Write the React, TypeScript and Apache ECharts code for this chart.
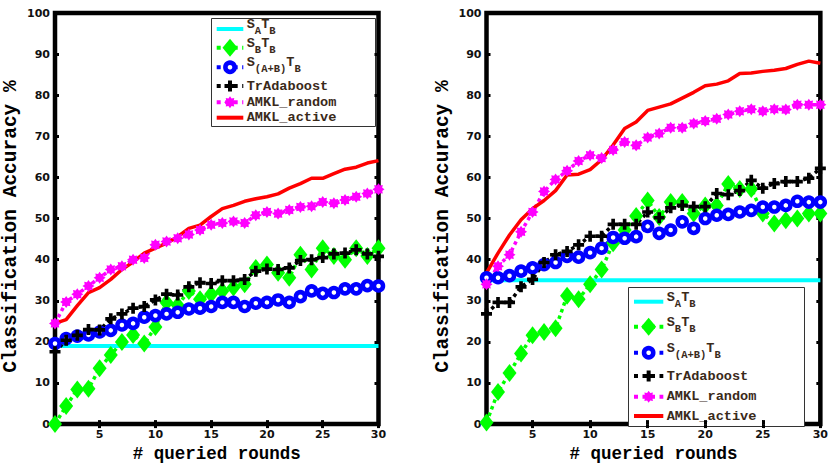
import React, { useEffect, useRef } from 'react';
import * as echarts from 'echarts';

const ROUNDS = [1, 2, 3, 4, 5, 6, 7, 8, 9, 10, 11, 12, 13, 14, 15, 16, 17, 18, 19, 20, 21, 22, 23, 24, 25, 26, 27, 28, 29, 30];
const X_TICKS = [5, 10, 15, 20, 25, 30];

const NAMES = ['SATB', 'SBTB', 'SABTB', 'TrAdaboost', 'AMKL_random', 'AMKL_active'];

// Left panel
const L_SATB = [19, 19, 19, 19, 19, 19, 19, 19, 19, 19, 19, 19, 19, 19, 19, 19, 19, 19, 19, 19, 19, 19, 19, 19, 19, 19, 19, 19, 19, 19];
const L_SBTB = [0, 4.4, 8.4, 8.6, 13.6, 16.8, 20, 21.7, 19.6, 23.6, 29.6, 28.9, 32.4, 30.4, 31.6, 32.4, 33.2, 34, 38, 38.8, 36.8, 35.6, 41.2, 37.6, 42.8, 40.9, 40, 42.8, 40.9, 42.8];
const L_SABTB = [19.6, 20.8, 21.4, 21.7, 22.4, 22.8, 24.1, 24.5, 26, 26.4, 26.8, 27.2, 28, 28.2, 28.6, 29.6, 29.6, 28.6, 29.4, 29.6, 30.2, 29.6, 31, 32.4, 31.8, 32, 32.9, 32.9, 33.7, 33.6];
const L_TRADA = [17.6, 20.4, 21.6, 23, 22.9, 25.6, 26.8, 28.2, 28.6, 30.2, 31.6, 31.4, 33.4, 34.4, 34.2, 34.9, 34.9, 35.2, 37.2, 37.7, 37.6, 38, 39.8, 40, 40.5, 41.4, 41.6, 42.4, 41.4, 40.8];
const L_RANDOM = [24.5, 29.7, 31.6, 33.6, 35.6, 37.6, 38.4, 40, 40.4, 43.6, 44.4, 45.2, 46.1, 47.2, 48.5, 48.9, 49.3, 48.9, 50.8, 51.6, 51.2, 52.1, 52.8, 53, 54, 53.7, 54.5, 55.3, 56.1, 57.1];
const L_ACTIVE = [24.5, 25.4, 28.8, 32, 33.2, 35.2, 37.6, 39.4, 41.6, 42.8, 44, 45.6, 47.6, 48.4, 50.5, 52.4, 53.2, 54.2, 54.8, 55.3, 56, 57.4, 58.5, 59.8, 59.8, 60.9, 62, 62.5, 63.5, 64.1];

// Right panel
const R_SATB = [35, 35, 35, 35, 35, 35, 35, 35, 35, 35, 35, 35, 35, 35, 35, 35, 35, 35, 35, 35, 35, 35, 35, 35, 35, 35, 35, 35, 35, 35];
const R_SBTB = [0.4, 7.8, 12.4, 17.2, 21.6, 22.4, 23.3, 31.2, 30.4, 34, 37.6, 44, 47.2, 50.6, 54.4, 50.4, 54, 54, 51.2, 53.2, 53.2, 58.4, 57.2, 57.2, 51.2, 48.8, 49.6, 50, 51.2, 51.2];
const R_SABTB = [35.6, 35.6, 36.1, 37.2, 38, 38.8, 39.3, 40.8, 40.6, 41.7, 42.8, 45.4, 45.2, 45.6, 48.1, 46.4, 47.2, 49.2, 47.6, 50, 50.8, 51, 51.6, 52, 52.8, 52.8, 53.2, 54.2, 54, 54];
const R_TRADA = [26.8, 29.6, 29.6, 33.4, 35.2, 39.3, 41.2, 42, 43.6, 45.7, 45.7, 48.6, 48.6, 48.6, 51.6, 50.2, 52.6, 53.2, 52.9, 52.9, 56.1, 55.8, 56.8, 59.3, 57.4, 58.5, 59, 59, 59.8, 62.2];
const R_RANDOM = [34, 38.4, 41.2, 46.8, 51.6, 56.6, 59.5, 61.6, 64, 65.4, 64.7, 66.7, 68.6, 67.8, 69.7, 70.7, 72.1, 72.1, 73.1, 73.7, 74.3, 75.3, 76.1, 76.6, 76.1, 76.6, 76.5, 77.7, 77.7, 77.7];
const R_ACTIVE = [36.8, 41.6, 46, 49.7, 52.4, 54.4, 56.8, 60.6, 60.8, 61.9, 64.3, 67.9, 71.9, 73.5, 76.3, 77.1, 77.9, 79.3, 80.7, 82.3, 82.7, 83.5, 85.3, 85.4, 85.8, 86.1, 86.5, 87.5, 88.3, 87.8];

const PANELS = [
  [L_SATB, L_SBTB, L_SABTB, L_TRADA, L_RANDOM, L_ACTIVE],
  [R_SATB, R_SBTB, R_SABTB, R_TRADA, R_RANDOM, R_ACTIVE],
];

const LEGEND_LABELS = [
  '{n|S}{s|A}{n|T}{s|B}',
  '{n|S}{s|B}{n|T}{s|B}',
  '{n|S}{s|(A+B)}{n|T}{s|B}',
  '{p|TrAdaboost}',
  '{p|AMKL_random}',
  '{p|AMKL_active}',
];
const HAS_SUB = [true, true, true, false, false, false];

const COLORS = ['#00ffff', '#00ff00', '#0000ff', '#000000', '#ff00ff', '#ff0000'];

const MONO = '"Liberation Mono", "Courier New", monospace';
const LEG_COLOR = '#3a2a1a';

function starPts(cx: number, cy: number, R: number, r: number) {
  const pts: number[][] = [];
  for (let i = 0; i < 16; i++) {
    const a = (i * Math.PI) / 8;
    const rr = i % 2 === 0 ? R : r;
    pts.push([cx + rr * Math.sin(a), cy - rr * Math.cos(a)]);
  }
  return pts;
}
function starPath() {
  return 'path://M' + starPts(12, 12, 10, 6.8).map((p) => p[0].toFixed(2) + ',' + p[1].toFixed(2)).join('L') + 'Z';
}
const PLUS = 'path://M4,0H8V4H12V8H8V12H4V8H0V4H4Z';
const STAR = starPath();

function seriesStyle(idx: number) {
  const c = COLORS[idx];
  switch (idx) {
    case 0:
      return { symbol: 'none', color: c, lineStyle: { color: c, width: 4, type: 'solid' } };
    case 1:
      return { symbol: 'diamond', symbolSize: [14, 18], color: c, itemStyle: { color: c }, lineStyle: { color: c, width: 3.5, type: 'dotted' } };
    case 2:
      return { symbol: 'circle', symbolSize: 9, color: c, itemStyle: { color: '#ffffff', borderColor: c, borderWidth: 4.5 }, lineStyle: { color: c, width: 3.5, type: 'dotted' } };
    case 3:
      return { symbol: PLUS, symbolSize: 11, color: c, itemStyle: { color: c }, lineStyle: { color: c, width: 3.5, type: 'dotted' } };
    case 4:
      return { symbol: STAR, symbolSize: 12, color: c, itemStyle: { color: c }, lineStyle: { color: c, width: 3.5, type: 'dotted' } };
    default:
      return { symbol: 'none', color: c, lineStyle: { color: c, width: 3.5, type: 'solid' } };
  }
}

const RICH = {
  n: { fontFamily: MONO, fontWeight: 'bold', fontSize: 13.6, lineHeight: 14, verticalAlign: 'top', fill: LEG_COLOR },
  s: { fontFamily: MONO, fontWeight: 'bold', fontSize: 10.5, lineHeight: 19, verticalAlign: 'bottom', fill: LEG_COLOR },
  p: { fontFamily: MONO, fontWeight: 'bold', fontSize: 13.6, lineHeight: 14, fill: LEG_COLOR },
};

function legendMarker(i: number, cx: number, cy: number): any | null {
  const c = COLORS[i];
  if (i === 1) {
    return { type: 'polygon', shape: { points: [[cx, cy - 9], [cx + 7.5, cy], [cx, cy + 9], [cx - 7.5, cy]] }, style: { fill: c } };
  }
  if (i === 2) {
    return { type: 'circle', shape: { cx, cy, r: 4.6 }, style: { fill: '#ffffff', stroke: c, lineWidth: 4.6 } };
  }
  if (i === 3) {
    const h = 5.5, w = 2;
    return {
      type: 'polygon',
      shape: { points: [[cx - w, cy - h], [cx + w, cy - h], [cx + w, cy - w], [cx + h, cy - w], [cx + h, cy + w], [cx + w, cy + w], [cx + w, cy + h], [cx - w, cy + h], [cx - w, cy + w], [cx - h, cy + w], [cx - h, cy - w], [cx - w, cy - w]] },
      style: { fill: c },
    };
  }
  if (i === 4) {
    return { type: 'polygon', shape: { points: starPts(cx, cy, 6, 4.1) }, style: { fill: c } };
  }
  return null;
}

function buildLegend(box: { x: number; y: number; w: number; h: number }, rows: number[], iconX0: number, iconX1: number, textX: number) {
  const children: any[] = [
    { type: 'rect', shape: { x: box.x, y: box.y, width: box.w, height: box.h }, style: { fill: '#ffffff', stroke: '#333333', lineWidth: 1 } },
  ];
  rows.forEach((cy, i) => {
    const c = COLORS[i];
    const solid = i === 0 || i === 5;
    children.push({
      type: 'line',
      shape: { x1: iconX0, y1: cy, x2: iconX1, y2: cy },
      style: { stroke: c, lineWidth: 4, lineDash: solid ? null : [4, 4.5] },
    });
    const m = legendMarker(i, (iconX0 + iconX1) / 2, cy);
    if (m) children.push(m);
    children.push({
      type: 'text',
      style: {
        text: LEGEND_LABELS[i],
        x: textX,
        y: HAS_SUB[i] ? cy - 2 : cy,
        verticalAlign: 'middle',
        align: 'left',
        fontFamily: MONO,
        fontWeight: 'bold',
        fontSize: 13.6,
        fill: LEG_COLOR,
        rich: RICH,
      },
    });
  });
  return { type: 'group', z: 100, children };
}

export default function App() {
  const ref = useRef<HTMLDivElement>(null);
  useEffect(() => {
    if (!ref.current) return;
    const chart = echarts.init(ref.current, undefined, { renderer: 'svg' });

    const grids = [
      { left: 44, right: 452.5, top: 13, bottom: 38 },
      { left: 486.5, right: 10.5, top: 13, bottom: 38 },
    ].map((g) => ({ ...g, show: true, borderColor: '#000', borderWidth: 4.5, backgroundColor: 'transparent', containLabel: false }));

    const tickStyle = { inside: true, length: 4, lineStyle: { color: '#000', width: 3 } };
    const labelFont = { fontFamily: '"DejaVu Sans", sans-serif', fontWeight: 'bold', fontSize: 11, color: '#111' };
    const xNameFont = { fontFamily: MONO, fontWeight: 'bold', fontSize: 17.5, color: '#000' };
    const yNameFont = { fontFamily: MONO, fontWeight: 'bold', fontSize: 19.5, color: '#000', padding: [0, 16, 0, 0] };

    const xAxis: any[] = [];
    const yAxis: any[] = [];
    [0, 1].forEach((g) => {
      xAxis.push({
        type: 'value', gridIndex: g, min: 1, max: 30, position: 'bottom',
        axisLine: { show: false },
        axisTick: { ...tickStyle, customValues: X_TICKS },
        axisLabel: { ...labelFont, margin: 5, customValues: X_TICKS },
        splitLine: { show: false },
        name: '# queried rounds', nameLocation: 'middle', nameGap: 14, nameTextStyle: xNameFont,
      });
      xAxis.push({
        type: 'value', gridIndex: g, min: 1, max: 30, position: 'top',
        axisLine: { show: false },
        axisTick: { ...tickStyle, customValues: X_TICKS },
        axisLabel: { show: false },
        splitLine: { show: false },
      });
      yAxis.push({
        type: 'value', gridIndex: g, min: 0, max: 100, interval: 10, position: 'left',
        axisLine: { show: false },
        axisTick: tickStyle,
        axisLabel: { ...labelFont, margin: 5 },
        splitLine: { show: false },
        name: 'Classification Accuracy %', nameLocation: 'middle', nameRotate: 90, nameGap: 34, nameTextStyle: yNameFont,
      });
      yAxis.push({
        type: 'value', gridIndex: g, min: 0, max: 100, interval: 10, position: 'right',
        axisLine: { show: false },
        axisTick: tickStyle,
        axisLabel: { show: false },
        splitLine: { show: false },
      });
    });

    const series: any[] = [];
    PANELS.forEach((arrs, g) => {
      arrs.forEach((vals, i) => {
        series.push({
          type: 'line',
          name: NAMES[i],
          xAxisIndex: g * 2,
          yAxisIndex: g * 2,
          data: ROUNDS.map((x, k) => [x, vals[k]]),
          showSymbol: i !== 0 && i !== 5,
          clip: false,
          ...seriesStyle(i),
        });
      });
    });

    chart.setOption({
      animation: false,
      backgroundColor: '#ffffff',
      grid: grids,
      xAxis,
      yAxis,
      series,
      graphic: [
        buildLegend({ x: 211.5, y: 18.5, w: 164, h: 108 }, [29, 47.7, 67.3, 86, 102.3, 117.7], 216.7, 243.3, 246.7),
        buildLegend({ x: 628.5, y: 287.5, w: 176, h: 139 }, [301.7, 326.7, 352.7, 376, 396.7, 416], 634, 663.3, 666.7),
      ],
    });
    return () => chart.dispose();
  }, []);
  return <div ref={ref} style={{ position: 'fixed', left: 0, top: 0, width: 831, height: 468 }} />;
}
